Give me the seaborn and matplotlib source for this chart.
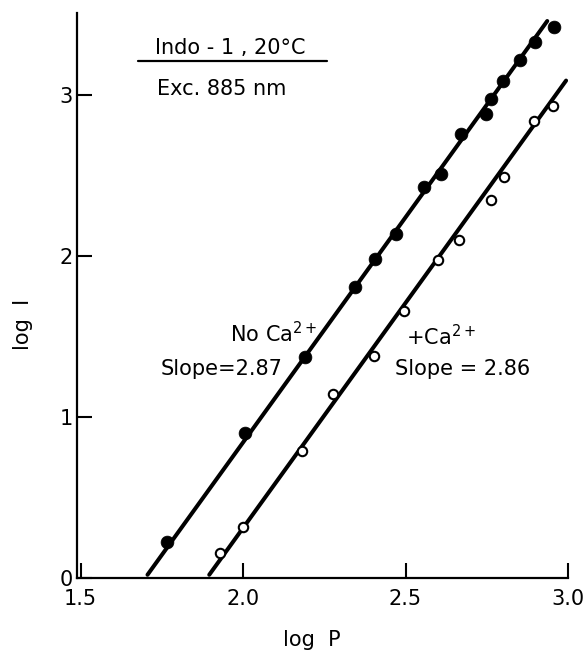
import numpy as np
import pandas as pd
import matplotlib
matplotlib.use("Agg")
import matplotlib.pyplot as plt
import seaborn as sns

# Data
no_ca_logP = [1.767, 2.006, 2.190, 2.344, 2.405, 2.472, 2.558, 2.610, 2.672, 2.748, 2.764, 2.801, 2.853, 2.899, 2.957]
no_ca_logI = [0.224, 0.900, 1.370, 1.810, 1.980, 2.140, 2.430, 2.510, 2.760, 2.880, 2.975, 3.090, 3.220, 3.330, 3.420]
ca_logP = [1.929, 2.000, 2.181, 2.276, 2.402, 2.494, 2.601, 2.663, 2.764, 2.804, 2.896, 2.954]
ca_logI = [0.155, 0.317, 0.790, 1.140, 1.380, 1.660, 1.975, 2.100, 2.350, 2.490, 2.840, 2.930]
# fitted lines (endpoints)
no_ca_fit_x = [1.706, 2.936]
no_ca_fit_y = [0.02, 3.46]
ca_fit_x = [1.896, 2.994]
ca_fit_y = [0.02, 3.09]
x_ticks = [1.5, 2.0, 2.5, 3.0]
x_tick_labels = ["1.5", "2.0", "2.5", "3.0"]
y_ticks = [0, 1, 2, 3]
y_tick_labels = ["0", "1", "2", "3"]

sns.set_style("ticks")
plt.rcParams['font.family'] = ['DejaVu Sans']
plt.rcParams['text.color'] = 'black'
plt.rcParams['axes.labelcolor'] = 'black'

fig = plt.figure(figsize=(5.85, 6.52), dpi=100)
ax = fig.add_axes([0.1316, 0.1135, 0.8394, 0.8666])

df_nf = pd.DataFrame({"x": no_ca_fit_x, "y": no_ca_fit_y})
df_cf = pd.DataFrame({"x": ca_fit_x, "y": ca_fit_y})
sns.lineplot(data=df_nf, x="x", y="y", ax=ax, color="black", lw=2.9, zorder=2)
sns.lineplot(data=df_cf, x="x", y="y", ax=ax, color="black", lw=2.9, zorder=2)

df_n = pd.DataFrame({"x": no_ca_logP, "y": no_ca_logI})
df_c = pd.DataFrame({"x": ca_logP, "y": ca_logI})
sns.scatterplot(data=df_n, x="x", y="y", ax=ax, color="black", s=85, marker="o",
                edgecolor="black", linewidth=0.5, zorder=3)
sns.scatterplot(data=df_c, x="x", y="y", ax=ax, color="white", s=46, marker="o",
                edgecolor="black", linewidth=1.5, zorder=3)

ax.set_xlim(1.489, 3.0)
ax.set_ylim(0, 3.51)
ax.set_xticks(x_ticks)
ax.set_xticklabels(x_tick_labels)
ax.set_yticks(y_ticks)
ax.set_yticklabels(y_tick_labels)
sns.despine(ax=ax)
for s in ["left", "bottom"]:
    ax.spines[s].set_linewidth(1.6)
    ax.spines[s].set_color("black")
ax.tick_params(direction="in", length=10.5, width=1.5, labelsize=15, colors="black")
ax.tick_params(axis="x", pad=8)
ax.tick_params(axis="y", pad=3)

ax.set_xlabel("log  P", fontsize=15, color="black", va="center")
ax.set_ylabel("log  I", fontsize=15, color="black", va="center")
ax.xaxis.set_label_coords(0.479, -0.11)
ax.yaxis.set_label_coords(-0.11, 0.448)

fs = 15
ax.text(1.729, 3.29, "Indo - 1 , 20°C", fontsize=fs, ha="left", va="center", color="black")
ax.plot([1.677, 2.258], [3.21, 3.21], color="black", lw=1.6)
ax.text(1.735, 3.04, "Exc. 885 nm", fontsize=fs, ha="left", va="center", color="black")

ax.text(1.96, 1.52, "No Ca$^{2+}$", fontsize=fs, ha="left", va="center", color="black")
ax.text(1.745, 1.30, "Slope=2.87", fontsize=fs, ha="left", va="center", color="black")
ax.text(2.50, 1.50, "+Ca$^{2+}$", fontsize=fs, ha="left", va="center", color="black")
ax.text(2.468, 1.30, "Slope = 2.86", fontsize=fs, ha="left", va="center", color="black")

fig.savefig("out.png", dpi=100)
